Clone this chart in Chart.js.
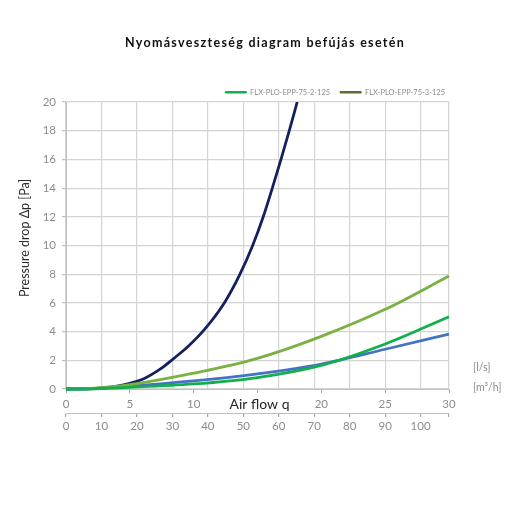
<!DOCTYPE html>
<html><head><meta charset="utf-8">
<script src="https://cdn.jsdelivr.net/npm/chart.js@4.4.1/dist/chart.umd.min.js"></script>
<style>html,body{margin:0;padding:0;background:#fff}</style>
</head><body>
<canvas id="c" width="510" height="510"></canvas>
<script>
// ---- texts ----
const chartTitle = 'Nyomásveszteség diagram befújás esetén';
const yTitle = 'Pressure drop Δp [Pa]';
const xTitle = 'Air flow q';
const unitLs = '[l/s]';
const unitM3h = '[m³/h]';
const seriesNames = ['FLX-PLO-EPP-75-2-125', 'FLX-PLO-EPP-75-3-125', 'Series 3', 'Series 4'];

// ---- ticks ----
const lsTicks = [0, 5, 10, 15, 20, 25, 30];
const m3hTicks = [0, 10, 20, 30, 40, 50, 60, 70, 80, 90, 100];
const m3hMax = 108;
const pTicks = [0, 2, 4, 6, 8, 10, 12, 14, 16, 18, 20];

// ---- series (x = air flow in l/s, y = pressure drop in Pa) ----
const green2Q = [0, 1, 5, 10, 15, 20, 25, 30];
const green2P = [0, 0, 0.12, 0.35, 0.8, 1.65, 3.14, 5.04];
const olive3Q = [0, 2.5, 5, 10, 15, 20, 25, 30];
const olive3P = [0, 0.08, 0.3, 1.1, 2.14, 3.67, 5.55, 7.87];
const navyQ = [0, 2, 4, 6, 7.4, 8.4, 9.6, 10.8, 12.4, 13.6, 14.62, 15.45, 16.16, 16.84, 17.49, 18.11];
const navyP = [0, 0.03, 0.2, 0.68, 1.4, 2.1, 3.0, 4.1, 6.0, 7.95, 10, 12, 14, 16, 18, 20];
const blueQ = [0, 1, 5, 10, 15, 20, 25, 30];
const blueP = [0, 0, 0.2, 0.56, 1.05, 1.74, 2.77, 3.83];

const lineColors = ['#12b04c', '#79b143', '#13215e', '#4573c4'];
const legendColors = ['#12b04c', '#5f6d2d'];

const zip = (q, p) => q.map((v, i) => ({x: v, y: p[i]}));
const seriesData = [zip(green2Q, green2P), zip(olive3Q, olive3P), zip(navyQ, navyP), zip(blueQ, blueP)];

Chart.defaults.font.family = 'Lato, "Open Sans", sans-serif';

const legendShift = {
  id: 'legendShift',
  afterLayout(chart) {
    const l = chart.legend;
    if (l) { l.top += 4; l.bottom += 4; l.left += 6; l.right += 6; }
  }
};

const texts = {
  id: 'texts',
  afterDraw(chart) {
    const ctx = chart.ctx;
    ctx.save();
    ctx.textBaseline = 'middle';
    ctx.textAlign = 'center';
    ctx.fillStyle = '#111111';
    ctx.font = 'bold 12.5px Lato, "Open Sans", sans-serif';
    ctx.letterSpacing = '1.3px';
    ctx.fillText(chartTitle, 265, 43);
    ctx.letterSpacing = '0px';

    ctx.save();
    ctx.translate(25, 238);
    ctx.rotate(-Math.PI / 2);
    ctx.fillStyle = '#2b2b2b';
    ctx.font = '12.5px Lato, "Open Sans", sans-serif';
    ctx.fillText(yTitle, 0, 0);
    ctx.restore();

    const xs = chart.scales.x;
    ctx.fillStyle = '#262626';
    ctx.font = '14px Lato, "Open Sans", sans-serif';
    ctx.fillText(xTitle, xs.getPixelForValue(15) + 2, xs.top + 15);

    ctx.textAlign = 'left';
    ctx.fillStyle = '#8c8c8c';
    ctx.font = '10.5px Lato, "Open Sans", sans-serif';
    ctx.fillText(unitLs, 473, 368);
    ctx.fillText(unitM3h, 473, 388);
    ctx.restore();
  }
};

new Chart(document.getElementById('c'), {
  type: 'line',
  data: {
    datasets: seriesData.map((d, i) => ({
      label: seriesNames[i],
      data: d,
      borderColor: lineColors[i],
      backgroundColor: lineColors[i],
      borderWidth: 2.8,
      pointRadius: 0,
      cubicInterpolationMode: 'monotone',
      fill: false,
      clip: {left: 2, right: 2, top: 0, bottom: 2}
    }))
  },
  options: {
    responsive: false,
    animation: false,
    devicePixelRatio: 1,
    layout: {padding: {left: 0, right: 61, top: 74.5, bottom: 67}},
    plugins: {
      title: {display: false},
      tooltip: {enabled: false},
      legend: {
        display: true,
        position: 'top',
        align: 'end',
        labels: {
          boxWidth: 21,
          boxHeight: 1.5,
          padding: 10,
          color: '#8c8c8c',
          font: {size: 7.5},
          filter: (item) => item.datasetIndex < 2,
          generateLabels(chart) {
            const items = Chart.defaults.plugins.legend.labels.generateLabels(chart);
            items.forEach((it) => {
              if (it.datasetIndex < 2) {
                it.fillStyle = legendColors[it.datasetIndex];
                it.strokeStyle = legendColors[it.datasetIndex];
                it.lineWidth = 1;
              }
            });
            return items;
          }
        }
      }
    },
    scales: {
      x: {
        type: 'linear',
        position: 'bottom',
        min: 0, max: 30,
        afterBuildTicks(s) { s.ticks = lsTicks.map(v => ({value: v})); },
        afterFit(s) { s.height = 24; },
        grid: {drawOnChartArea: false, drawTicks: true, tickLength: 4, tickColor: '#a6a6a6'},
        border: {display: true, color: '#bfbfbf', width: 1},
        ticks: {
          color: '#8c8c8c', font: {size: 11.5}, padding: 4, maxRotation: 0, autoSkip: false,
          callback: (v) => (v === 15 ? '' : v)
        }
      },
      x2: {
        type: 'linear',
        position: 'bottom',
        min: 0, max: m3hMax,
        afterBuildTicks(s) { s.ticks = m3hTicks.concat([m3hMax]).map(v => ({value: v})); },
        afterFit(s) { s.height = 30; },
        grid: {drawOnChartArea: true, color: '#d4d4d4', lineWidth: 1.2, drawTicks: true, tickLength: 4, tickColor: '#a6a6a6'},
        border: {display: true, color: '#bfbfbf', width: 1},
        ticks: {
          color: '#8c8c8c', font: {size: 11.5}, padding: 2, maxRotation: 0, autoSkip: false,
          callback: (v) => (v === m3hMax ? '' : v)
        }
      },
      y: {
        type: 'linear',
        position: 'left',
        min: 0, max: 20,
        afterBuildTicks(s) { s.ticks = pTicks.map(v => ({value: v})); },
        afterFit(s) { s.width = 66; },
        grid: {color: '#d4d4d4', lineWidth: 1.2, drawTicks: true, tickLength: 4, tickColor: '#bfbfbf'},
        border: {display: true, color: '#bfbfbf', width: 1},
        ticks: {color: '#8c8c8c', font: {size: 11.5}, padding: 6}
      }
    }
  },
  plugins: [legendShift, texts]
});
</script>
</body></html>
